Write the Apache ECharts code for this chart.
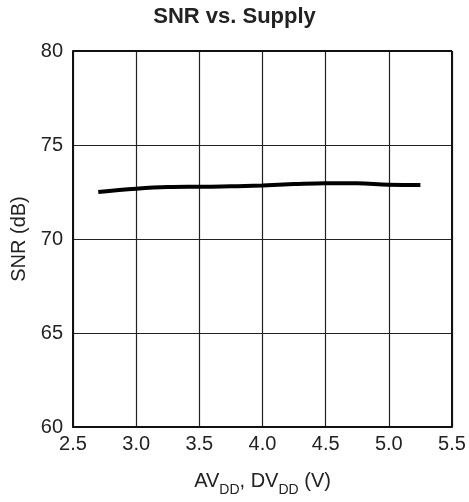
<!DOCTYPE html>
<html><head><meta charset="utf-8">
<script src="https://cdn.jsdelivr.net/npm/echarts@6/dist/echarts.min.js"></script>
<style>html,body{margin:0;padding:0;background:#fff}#c{width:469px;height:502px}</style>
</head><body><div id="c"></div>
<script>
const supplyV = [2.7, 3.0, 3.25, 3.5, 3.75, 4.0, 4.25, 4.5, 4.75, 5.0, 5.25];
const snrDb = [72.5, 72.67, 72.76, 72.78, 72.8, 72.85, 72.92, 72.97, 72.97, 72.88, 72.87];
const xTicks = [2.5, 3.0, 3.5, 4.0, 4.5, 5.0, 5.5];
const yTicks = [60, 65, 70, 75, 80];

const font = 'Liberation Sans, Arial, Helvetica, sans-serif';
const chart = echarts.init(document.getElementById('c'), null, {renderer: 'canvas'});
chart.setOption({
  animation: false,
  title: {text: 'SNR vs. Supply', left: 'center', top: 1,
    textStyle: {fontFamily: font, fontSize: 22, fontWeight: 'bold', color: '#222'}},
  grid: {left: 73, right: 17, top: 51, bottom: 73, containLabel: false},
  xAxis: {
    type: 'value', min: xTicks[0], max: xTicks[xTicks.length-1], interval: 0.5,
    name: '{n|AV}{s|DD}{n|, DV}{s|DD}{n| (V)}', nameLocation: 'middle', nameGap: 42,
    nameTextStyle: {rich: {
      n: {fontFamily: font, fontSize: 20, color: '#222', verticalAlign: 'bottom', lineHeight: 22},
      s: {fontFamily: font, fontSize: 14, color: '#222', verticalAlign: 'bottom', lineHeight: 14, padding: [0,0,-6,0]}
    }},
    axisLine: {show: true, lineStyle: {color: '#111', width: 2}},
    axisTick: {show: false},
    axisLabel: {fontFamily: font, fontSize: 20, color: '#222', margin: 7,
      formatter: v => v.toFixed(1)},
    splitLine: {show: true, lineStyle: {color: '#222', width: 1.2}}
  },
  yAxis: {
    type: 'value', min: yTicks[0], max: yTicks[yTicks.length-1], interval: 5,
    name: 'SNR (dB)', nameLocation: 'middle', nameGap: 42, nameRotate: 90,
    nameTextStyle: {fontFamily: font, fontSize: 20, color: '#222'},
    axisLine: {show: true, lineStyle: {color: '#111', width: 2}},
    axisTick: {show: false},
    axisLabel: {fontFamily: font, fontSize: 20, color: '#222', margin: 10},
    splitLine: {show: true, lineStyle: {color: '#222', width: 1.2}}
  },
  series: [{
    type: 'line', data: supplyV.map((x, i) => [x, snrDb[i]]),
    smooth: 0.4, showSymbol: false,
    lineStyle: {color: '#000', width: 4}
  }, {
    type: 'line', data: [], markLine: {silent: true, symbol: 'none', label: {show: false},
      lineStyle: {color: '#111', width: 2, type: 'solid'},
      data: [{yAxis: 80}, {xAxis: 5.5}]}
  }]
});
</script></body></html>
